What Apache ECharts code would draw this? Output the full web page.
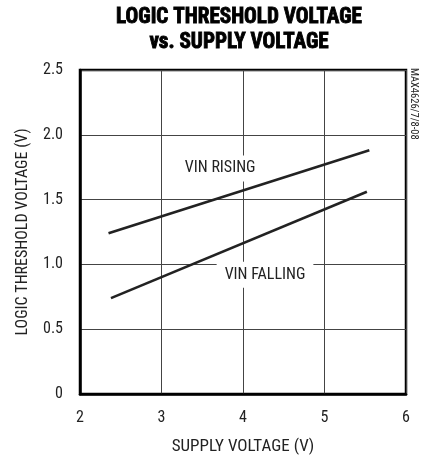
<!DOCTYPE html>
<html>
<head>
<meta charset="utf-8">
<script src="https://cdn.jsdelivr.net/npm/echarts@6/dist/echarts.min.js"></script>
<style>
  html, body { margin: 0; padding: 0; background: #fff; }
  #main { width: 422px; height: 456px; }
</style>
</head>
<body>
<div id="main"></div>
<script>
const risingX = [2.35, 5.55];
const risingY = [1.24, 1.88];
const fallingX = [2.38, 5.52];
const fallingY = [0.74, 1.56];
const labelNames = ['VIN RISING', 'VIN FALLING'];
const labelAt = [[3.72, 1.74], [4.27, 0.92]];
const titleLines = ['LOGIC THRESHOLD VOLTAGE', 'vs. SUPPLY VOLTAGE'];

(function() {
    const font = 'Roboto Condensed';
    let chart = echarts.init(document.getElementById('main'), null, {renderer: 'canvas'});

    function pairs(xs, ys) {
        return xs.map(function(x, i) { return [x, ys[i]]; });
    }

    function label(pad) {
        return {
            show: true,
            formatter: '{b}',
            fontFamily: font,
            fontSize: 16,
            color: '#222',
            backgroundColor: '#fff',
            padding: pad
        };
    }

    // heavy condensed title, stroke thickens the bold face a bit
    let titles = titleLines.map(function(t, i) {
        return {
            type: 'text',
            x: 239,
            y: 17 + i * 25,
            scaleX: 0.96,
            style: {
                text: t,
                font: 'bold 22px "' + font + '"',
                textAlign: 'center',
                textVerticalAlign: 'middle',
                fill: '#000',
                stroke: '#000',
                lineWidth: 0.9
            }
        };
    });

    let option = {
        animation: false,
        graphic: titles.concat([{
            type: 'text',
            x: 408,
            y: 68,
            rotation: -Math.PI / 2,
            style: {
                text: 'MAX4626/7/8-08',
                font: '10.5px "' + font + '"',
                fill: '#222',
                textVerticalAlign: 'bottom'
            }
        }]),
        grid: {
            left: 80, right: 16, top: 70, bottom: 62,
            show: true, borderColor: '#000', borderWidth: 2.5,
            outerBoundsMode: 'none',
            containLabel: false
        },
        xAxis: {
            type: 'value', min: 2, max: 6, interval: 1,
            name: 'SUPPLY VOLTAGE (V)', nameLocation: 'middle', nameGap: 44,
            nameTextStyle: {fontFamily: font, fontSize: 17, color: '#222'},
            axisLine: {show: true, lineStyle: {color: '#000', width: 2.5}},
            axisTick: {show: false},
            axisLabel: {fontFamily: font, fontSize: 16, color: '#222', margin: 16},
            splitLine: {show: true, lineStyle: {color: '#444', width: 1}}
        },
        yAxis: {
            type: 'value', min: 0, max: 2.5, interval: 0.5,
            name: 'LOGIC THRESHOLD VOLTAGE (V)', nameLocation: 'middle', nameGap: 49,
            nameTextStyle: {fontFamily: font, fontSize: 16, color: '#222'},
            axisLine: {show: true, lineStyle: {color: '#000', width: 2.5}},
            axisTick: {show: false},
            axisLabel: {
                fontFamily: font, fontSize: 16, color: '#222', margin: 17,
                formatter: function(v) { return v === 0 ? '0' : v.toFixed(1); }
            },
            splitLine: {show: true, lineStyle: {color: '#444', width: 1}}
        },
        series: [{
            name: 'VIN RISING',
            type: 'line',
            data: pairs(risingX, risingY),
            showSymbol: false,
            lineStyle: {color: '#222', width: 2.6},
            markPoint: {
                symbol: 'rect', symbolSize: 0,
                label: label([5, 6]),
                data: [{name: labelNames[0], coord: labelAt[0]}]
            }
        }, {
            name: 'VIN FALLING',
            type: 'line',
            data: pairs(fallingX, fallingY),
            showSymbol: false,
            lineStyle: {color: '#222', width: 2.6},
            markPoint: {
                symbol: 'rect', symbolSize: 0,
                label: label([5, 8]),
                data: [{name: labelNames[1], coord: labelAt[1]}]
            }
        }]
    };
    chart.setOption(option);
})();
</script>
</body>
</html>
